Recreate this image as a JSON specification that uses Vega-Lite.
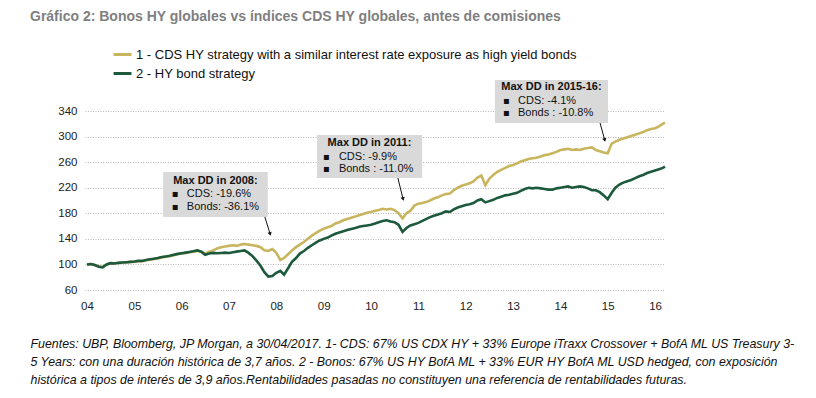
{
  "$schema": "https://vega.github.io/schema/vega-lite/v6.json",
  "autosize": "none",
  "width": 580,
  "height": 179,
  "padding": {"left": 85, "top": 111, "right": 151, "bottom": 108},
  "background": "white",
  "config": {
    "font": "Liberation Sans",
    "view": {"stroke": null}
  },
  "title": {
    "text": "Gráfico 2: Bonos HY globales vs índices CDS HY globales, antes de comisiones",
    "anchor": "start",
    "frame": "group",
    "dx": -55,
    "dy": -16,
    "fontSize": 14,
    "fontWeight": "bold",
    "color": "#7f7f7f",
    "font": "Liberation Sans"
  },
  "datasets": {
    "series": [
      {"x": "2004-01-01", "c": 100, "h": 100},
      {"x": "2004-02-01", "c": 100.5, "h": 100.5},
      {"x": "2004-03-01", "c": 99, "h": 99},
      {"x": "2004-04-01", "c": 97, "h": 96.5},
      {"x": "2004-05-01", "c": 96, "h": 95.5},
      {"x": "2004-06-01", "c": 100, "h": 100},
      {"x": "2004-07-01", "c": 102, "h": 102},
      {"x": "2004-08-01", "c": 101.5, "h": 101.5},
      {"x": "2004-09-01", "c": 102.5, "h": 102.5},
      {"x": "2004-10-01", "c": 103, "h": 103},
      {"x": "2004-11-01", "c": 103, "h": 103.5},
      {"x": "2004-12-01", "c": 104, "h": 104},
      {"x": "2005-01-01", "c": 104, "h": 104.5},
      {"x": "2005-02-01", "c": 105, "h": 105.5},
      {"x": "2005-03-01", "c": 105, "h": 105.5},
      {"x": "2005-04-01", "c": 106.5, "h": 107},
      {"x": "2005-05-01", "c": 107.5, "h": 108},
      {"x": "2005-06-01", "c": 108.5, "h": 109},
      {"x": "2005-07-01", "c": 109.5, "h": 110},
      {"x": "2005-08-01", "c": 111, "h": 111.5},
      {"x": "2005-09-01", "c": 112, "h": 112.5},
      {"x": "2005-10-01", "c": 113, "h": 113.5},
      {"x": "2005-11-01", "c": 114.5, "h": 115},
      {"x": "2005-12-01", "c": 116, "h": 116.5},
      {"x": "2006-01-01", "c": 117, "h": 117.5},
      {"x": "2006-02-01", "c": 118, "h": 118.5},
      {"x": "2006-03-01", "c": 119, "h": 119.5},
      {"x": "2006-04-01", "c": 120, "h": 120.5},
      {"x": "2006-05-01", "c": 121.5, "h": 122},
      {"x": "2006-06-01", "c": 120, "h": 120},
      {"x": "2006-07-01", "c": 117, "h": 115},
      {"x": "2006-08-01", "c": 120, "h": 117},
      {"x": "2006-09-01", "c": 122, "h": 118},
      {"x": "2006-10-01", "c": 125, "h": 117.5},
      {"x": "2006-11-01", "c": 127, "h": 118},
      {"x": "2006-12-01", "c": 128, "h": 118.5},
      {"x": "2007-01-01", "c": 129, "h": 118},
      {"x": "2007-02-01", "c": 130, "h": 119},
      {"x": "2007-03-01", "c": 129, "h": 120},
      {"x": "2007-04-01", "c": 131, "h": 121},
      {"x": "2007-05-01", "c": 132, "h": 122},
      {"x": "2007-06-01", "c": 131, "h": 118},
      {"x": "2007-07-01", "c": 130, "h": 113},
      {"x": "2007-08-01", "c": 129, "h": 106},
      {"x": "2007-09-01", "c": 127, "h": 98},
      {"x": "2007-10-01", "c": 122, "h": 88},
      {"x": "2007-11-01", "c": 121, "h": 81},
      {"x": "2007-12-01", "c": 124, "h": 82},
      {"x": "2008-01-01", "c": 118, "h": 87},
      {"x": "2008-02-01", "c": 107, "h": 90},
      {"x": "2008-03-01", "c": 110, "h": 84},
      {"x": "2008-04-01", "c": 116, "h": 94},
      {"x": "2008-05-01", "c": 122, "h": 104},
      {"x": "2008-06-01", "c": 127, "h": 110},
      {"x": "2008-07-01", "c": 131, "h": 117},
      {"x": "2008-08-01", "c": 135, "h": 121},
      {"x": "2008-09-01", "c": 140, "h": 126},
      {"x": "2008-10-01", "c": 145, "h": 130},
      {"x": "2008-11-01", "c": 149, "h": 134},
      {"x": "2008-12-01", "c": 153, "h": 137.5},
      {"x": "2009-01-01", "c": 156, "h": 140},
      {"x": "2009-02-01", "c": 158, "h": 142},
      {"x": "2009-03-01", "c": 160, "h": 145},
      {"x": "2009-04-01", "c": 164, "h": 148},
      {"x": "2009-05-01", "c": 166, "h": 150},
      {"x": "2009-06-01", "c": 169, "h": 152},
      {"x": "2009-07-01", "c": 171, "h": 154},
      {"x": "2009-08-01", "c": 173, "h": 155.5},
      {"x": "2009-09-01", "c": 175, "h": 157},
      {"x": "2009-10-01", "c": 177, "h": 159},
      {"x": "2009-11-01", "c": 179, "h": 160},
      {"x": "2009-12-01", "c": 181, "h": 161},
      {"x": "2010-01-01", "c": 182, "h": 162},
      {"x": "2010-02-01", "c": 184, "h": 164},
      {"x": "2010-03-01", "c": 185, "h": 166},
      {"x": "2010-04-01", "c": 187, "h": 168},
      {"x": "2010-05-01", "c": 186, "h": 169},
      {"x": "2010-06-01", "c": 187, "h": 167},
      {"x": "2010-07-01", "c": 185, "h": 166},
      {"x": "2010-08-01", "c": 180, "h": 162},
      {"x": "2010-09-01", "c": 172, "h": 151},
      {"x": "2010-10-01", "c": 180, "h": 157},
      {"x": "2010-11-01", "c": 184, "h": 161},
      {"x": "2010-12-01", "c": 192, "h": 163},
      {"x": "2011-01-01", "c": 195, "h": 165},
      {"x": "2011-02-01", "c": 196, "h": 168},
      {"x": "2011-03-01", "c": 197.5, "h": 171},
      {"x": "2011-04-01", "c": 200, "h": 174},
      {"x": "2011-05-01", "c": 203, "h": 176},
      {"x": "2011-06-01", "c": 205, "h": 178},
      {"x": "2011-07-01", "c": 208, "h": 180},
      {"x": "2011-08-01", "c": 210, "h": 183},
      {"x": "2011-09-01", "c": 211, "h": 182},
      {"x": "2011-10-01", "c": 216, "h": 186},
      {"x": "2011-11-01", "c": 220, "h": 189},
      {"x": "2011-12-01", "c": 223, "h": 191},
      {"x": "2012-01-01", "c": 225, "h": 193},
      {"x": "2012-02-01", "c": 227, "h": 194},
      {"x": "2012-03-01", "c": 230, "h": 196},
      {"x": "2012-04-01", "c": 236, "h": 200},
      {"x": "2012-05-01", "c": 239, "h": 202},
      {"x": "2012-06-01", "c": 224, "h": 197},
      {"x": "2012-07-01", "c": 234, "h": 199},
      {"x": "2012-08-01", "c": 240, "h": 201},
      {"x": "2012-09-01", "c": 245, "h": 204},
      {"x": "2012-10-01", "c": 248, "h": 206},
      {"x": "2012-11-01", "c": 251, "h": 208},
      {"x": "2012-12-01", "c": 254, "h": 209},
      {"x": "2013-01-01", "c": 255.5, "h": 210.5},
      {"x": "2013-02-01", "c": 258, "h": 212},
      {"x": "2013-03-01", "c": 261, "h": 215},
      {"x": "2013-04-01", "c": 263, "h": 218},
      {"x": "2013-05-01", "c": 265, "h": 220},
      {"x": "2013-06-01", "c": 266, "h": 219},
      {"x": "2013-07-01", "c": 267, "h": 220},
      {"x": "2013-08-01", "c": 269, "h": 219},
      {"x": "2013-09-01", "c": 271, "h": 218},
      {"x": "2013-10-01", "c": 272, "h": 217},
      {"x": "2013-11-01", "c": 274, "h": 217},
      {"x": "2013-12-01", "c": 276, "h": 219},
      {"x": "2014-01-01", "c": 279, "h": 220},
      {"x": "2014-02-01", "c": 280, "h": 221},
      {"x": "2014-03-01", "c": 281, "h": 222},
      {"x": "2014-04-01", "c": 279, "h": 220},
      {"x": "2014-05-01", "c": 280, "h": 221},
      {"x": "2014-06-01", "c": 279, "h": 222},
      {"x": "2014-07-01", "c": 281, "h": 221},
      {"x": "2014-08-01", "c": 282, "h": 219},
      {"x": "2014-09-01", "c": 283, "h": 216},
      {"x": "2014-10-01", "c": 279, "h": 216},
      {"x": "2014-11-01", "c": 277, "h": 213},
      {"x": "2014-12-01", "c": 275, "h": 208},
      {"x": "2015-01-01", "c": 274, "h": 202},
      {"x": "2015-02-01", "c": 289, "h": 212},
      {"x": "2015-03-01", "c": 292, "h": 220},
      {"x": "2015-04-01", "c": 295, "h": 225},
      {"x": "2015-05-01", "c": 297, "h": 228},
      {"x": "2015-06-01", "c": 299, "h": 230},
      {"x": "2015-07-01", "c": 301, "h": 232},
      {"x": "2015-08-01", "c": 303, "h": 235},
      {"x": "2015-09-01", "c": 305, "h": 238},
      {"x": "2015-10-01", "c": 307, "h": 240},
      {"x": "2015-11-01", "c": 310, "h": 243},
      {"x": "2015-12-01", "c": 312, "h": 245},
      {"x": "2016-01-01", "c": 313, "h": 247},
      {"x": "2016-02-01", "c": 316, "h": 249},
      {"x": "2016-03-01", "c": 320, "h": 251},
      {"x": "2016-03-18", "c": 322, "h": 253}
    ],
    "boxes": [
      {"x": "2005-08-11", "xe": "2007-10-27", "y": 244.6, "ye": 174.2},
      {"x": "2008-11-10", "xe": "2011-01-30", "y": 302.5, "ye": 235.2},
      {"x": "2012-08-14", "xe": "2015-01-03", "y": 388.5, "ye": 321.2}
    ],
    "arrows": [
      {"x": "2007-11-14", "y": 147.6, "xe": "2007-10-05", "ye": 174.2},
      {"x": "2010-09-05", "y": 202.3, "xe": "2010-07-27", "ye": 235.2},
      {"x": "2014-12-09", "y": 294.6, "xe": "2014-11-03", "ye": 321.2}
    ],
    "notes": [
      {"x": "2006-09-18", "y": 230.5, "role": "head", "text": "Max DD in 2008:"},
      {"x": "2005-10-17", "y": 210.2, "role": "bullet", "text": "▪"},
      {"x": "2005-10-17", "y": 189.8, "role": "bullet", "text": "▪"},
      {"x": "2006-02-10", "y": 210.2, "role": "item", "text": "CDS: -19.6%"},
      {"x": "2006-02-10", "y": 189.8, "role": "item", "text": "Bonds: -36.1%"},
      {"x": "2009-12-20", "y": 290.0, "role": "head", "text": "Max DD in 2011:"},
      {"x": "2008-12-26", "y": 268.0, "role": "bullet", "text": "▪"},
      {"x": "2008-12-26", "y": 249.3, "role": "bullet", "text": "▪"},
      {"x": "2009-04-28", "y": 268.0, "role": "item", "text": "CDS: -9.9%"},
      {"x": "2009-04-28", "y": 249.3, "role": "item", "text": "Bonds : -11.0%"},
      {"x": "2013-10-24", "y": 377.5, "role": "head", "text": "Max DD in 2015-16:"},
      {"x": "2012-10-15", "y": 355.6, "role": "bullet", "text": "▪"},
      {"x": "2012-10-15", "y": 336.9, "role": "bullet", "text": "▪"},
      {"x": "2013-02-08", "y": 355.6, "role": "item", "text": "CDS: -4.1%"},
      {"x": "2013-02-08", "y": 336.9, "role": "item", "text": "Bonds : -10.8%"}
    ]
  },
  "encoding": {
    "x": {
      "field": "x",
      "type": "temporal",
      "scale": {
        "type": "utc",
        "domain": [
          {"year": 2003, "month": 12, "date": 17, "utc": true},
          {"year": 2016, "month": 3, "date": 18, "utc": true}
        ]
      },
      "axis": {
        "values": [
          {"year": 2004, "month": 1, "date": 1, "utc": true},
          {"year": 2005, "month": 1, "date": 1, "utc": true},
          {"year": 2006, "month": 1, "date": 1, "utc": true},
          {"year": 2007, "month": 1, "date": 1, "utc": true},
          {"year": 2008, "month": 1, "date": 1, "utc": true},
          {"year": 2009, "month": 1, "date": 1, "utc": true},
          {"year": 2010, "month": 1, "date": 1, "utc": true},
          {"year": 2011, "month": 1, "date": 1, "utc": true},
          {"year": 2012, "month": 1, "date": 1, "utc": true},
          {"year": 2013, "month": 1, "date": 1, "utc": true},
          {"year": 2014, "month": 1, "date": 1, "utc": true},
          {"year": 2015, "month": 1, "date": 1, "utc": true},
          {"year": 2016, "month": 1, "date": 1, "utc": true}
        ],
        "labelExpr": "utcFormat(datum.value, '%y')",
        "grid": false,
        "domain": false,
        "ticks": false,
        "labelFontSize": 11.5,
        "labelColor": "#222222",
        "labelPadding": 10,
        "labelFlush": false,
        "labelOverlap": false,
        "title": [
          "Fuentes: UBP, Bloomberg, JP Morgan, a 30/04/2017. 1- CDS: 67% US CDX HY + 33% Europe iTraxx Crossover + BofA ML US Treasury 3-",
          "5 Years: con una duración histórica de 3,7 años. 2 - Bonos:  67% US HY BofA  ML + 33% EUR HY BofA ML USD hedged, con exposición",
          "histórica a tipos de interés de 3,9 años.Rentabilidades pasadas no constituyen una referencia de rentabilidades futuras."
        ],
        "titleFontStyle": "italic",
        "titleFontWeight": "normal",
        "titleFontSize": 12.4,
        "titleColor": "#111111",
        "titleAlign": "left",
        "titleBaseline": "alphabetic",
        "titleX": -55,
        "titleY": 57,
        "titleLineHeight": 18
      }
    },
    "y": {
      "field": "y",
      "type": "quantitative",
      "scale": {"domain": [60, 340], "nice": false, "zero": false},
      "axis": {
        "values": [60, 100, 140, 180, 220, 260, 300, 340],
        "title": null,
        "domain": false,
        "ticks": false,
        "labelOverlap": false,
        "labelFontSize": 11.5,
        "labelColor": "#222222",
        "labelPadding": 8,
        "gridColor": "#b8b8b8",
        "gridDash": [1, 1.5],
        "gridWidth": 1
      }
    }
  },
  "layer": [
    {
      "data": {"name": "series"},
      "transform": [{"fold": ["c", "h"], "as": ["s", "y"]}],
      "mark": {"type": "line", "strokeWidth": 2.6, "interpolate": "linear"},
      "encoding": {
        "color": {
          "field": "s",
          "type": "nominal",
          "scale": {"domain": ["c", "h"], "range": ["#c8b55e", "#1c5a3b"]},
          "legend": {
            "orient": "none",
            "legendX": 27,
            "legendY": -67,
            "title": null,
            "symbolType": "stroke",
            "symbolStrokeWidth": 3,
            "symbolSize": 320,
            "labelFontSize": 13,
            "labelLimit": 0,
            "labelColor": "#111111",
            "labelOffset": 3,
            "rowPadding": 1,
            "labelExpr": "datum.value == 'c' ? '1 - CDS HY strategy with a similar interest rate exposure as high yield bonds' : '2 - HY bond strategy'"
          }
        }
      }
    },
    {
      "data": {"name": "boxes"},
      "mark": {"type": "rect", "color": "#d9d9d9"},
      "encoding": {
        "x2": {"field": "xe"},
        "y2": {"field": "ye"}
      }
    },
    {
      "data": {"name": "arrows"},
      "mark": {"type": "rule", "color": "#111111", "strokeWidth": 1},
      "encoding": {
        "x2": {"field": "xe"},
        "y2": {"field": "ye"}
      }
    },
    {
      "data": {"name": "arrows"},
      "mark": {"type": "point", "shape": "triangle-down", "filled": true, "color": "#111111", "size": 18, "angle": 345, "opacity": 1},
      "encoding": {}
    },
    {
      "data": {"name": "notes"},
      "transform": [{"filter": "datum.role == 'head'"}],
      "mark": {"type": "text", "fontWeight": "bold", "fontSize": 11, "align": "center", "baseline": "middle", "color": "#111111"},
      "encoding": {"text": {"field": "text"}}
    },
    {
      "data": {"name": "notes"},
      "transform": [{"filter": "datum.role == 'bullet'"}],
      "mark": {"type": "text", "fontSize": 10, "align": "left", "baseline": "middle", "color": "#111111", "font": "DejaVu Sans"},
      "encoding": {"text": {"field": "text"}}
    },
    {
      "data": {"name": "notes"},
      "transform": [{"filter": "datum.role == 'item'"}],
      "mark": {"type": "text", "fontSize": 11, "align": "left", "baseline": "middle", "color": "#111111"},
      "encoding": {"text": {"field": "text"}}
    }
  ]
}
